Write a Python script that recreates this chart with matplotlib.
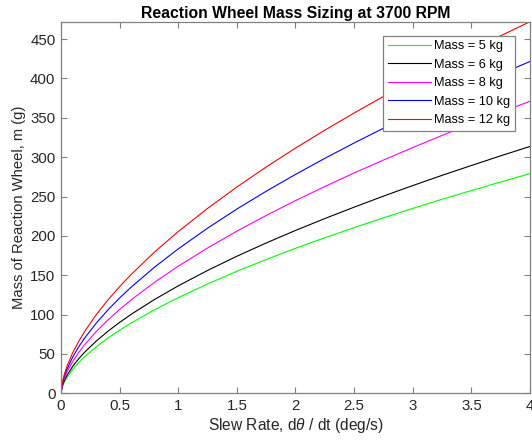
import matplotlib
matplotlib.use("Agg")
import matplotlib.pyplot as plt

plt.rcParams['font.family'] = ['Liberation Sans', 'DejaVu Sans']
plt.rcParams['mathtext.fontset'] = 'custom'
plt.rcParams['mathtext.it'] = 'Liberation Sans:italic'
plt.rcParams['mathtext.rm'] = 'Liberation Sans'

# Slew rate samples (deg/s)
slew_rate = [0, 0.01, 0.025, 0.05, 0.1, 0.15, 0.2, 0.3, 0.4, 0.5, 0.6, 0.8, 1.0,
             1.25, 1.5, 1.75, 2.0, 2.25, 2.5, 2.75, 3.0, 3.25, 3.5, 3.75, 4.0]

# Reaction wheel mass (g) for each spacecraft mass
mass_5kg = [0, 7.7, 13.3, 20.1, 30.5, 38.9, 46.3, 59.0, 70.1, 80.2, 89.4, 106.3, 121.5,
            138.9, 155.0, 170.0, 184.2, 197.6, 210.5, 222.9, 234.9, 246.5, 257.6, 268.5, 279.1]
mass_6kg = [0, 8.6, 14.9, 22.6, 34.3, 43.7, 52.0, 66.3, 78.8, 90.1, 100.5, 119.4, 136.5,
            156.1, 174.1, 191.0, 206.9, 222.0, 236.5, 250.5, 263.9, 276.9, 289.4, 301.7, 313.6]
mass_8kg = [0, 10.2, 17.7, 26.8, 40.6, 51.7, 61.5, 78.4, 93.2, 106.6, 118.9, 141.3, 161.5,
            184.6, 206.0, 225.9, 244.8, 262.7, 279.9, 296.3, 312.2, 327.6, 342.5, 356.9, 371.0]
mass_10kg = [0, 11.6, 20.1, 30.4, 46.1, 58.8, 69.9, 89.1, 105.9, 121.1, 135.1, 160.5, 183.5,
             209.8, 234.1, 256.7, 278.1, 298.5, 318.0, 336.7, 354.7, 372.2, 389.1, 405.6, 421.6]
mass_12kg = [0, 13.0, 22.5, 34.1, 51.6, 65.8, 78.2, 99.8, 118.6, 135.6, 151.2, 179.8, 205.5,
             234.9, 262.1, 287.5, 311.5, 334.3, 356.1, 377.1, 397.3, 416.8, 435.8, 454.2, 472.1]

labels = ['Mass = 5 kg', 'Mass = 6 kg', 'Mass = 8 kg', 'Mass = 10 kg', 'Mass = 12 kg']
colors = ['#00ff00', '#000000', '#ff00ff', '#0000ff', '#ff0000']
x_ticks = [0, 0.5, 1, 1.5, 2, 2.5, 3, 3.5, 4]
y_ticks = [0, 50, 100, 150, 200, 250, 300, 350, 400, 450]

fig = plt.figure(figsize=(5.32, 4.44), dpi=100)
ax = fig.add_axes([0.1147, 0.1142, 0.8815, 0.8369])

for series, lab, col in zip([mass_5kg, mass_6kg, mass_8kg, mass_10kg, mass_12kg], labels, colors):
    ax.plot(slew_rate, series, color=col, lw=0.8, label=lab)

ax.set_xlim(0, 4)
ax.set_ylim(0, 472.1)
ax.set_xticks(x_ticks)
ax.set_xticklabels(['0', '0.5', '1', '1.5', '2', '2.5', '3', '3.5', '4'])
ax.set_yticks(y_ticks)

spine_col = '#808080'
for s in ax.spines.values():
    s.set_color(spine_col)
    s.set_linewidth(0.9)
ax.tick_params(direction='in', length=4, width=0.8, color=spine_col,
               top=True, right=True, labelsize=10.8, labelcolor='#262626', pad=4)

ax.set_xlabel(r'Slew Rate, d$\theta$ / dt (deg/s)', fontsize=11.2, color='#262626', labelpad=2)
ax.set_ylabel('Mass of Reaction Wheel, m (g)', fontsize=10.6, color='#262626', labelpad=3)
ax.set_title('Reaction Wheel Mass Sizing at 3700 RPM', fontsize=11.3, fontweight='bold', pad=3)

leg = ax.legend(loc='upper right', bbox_to_anchor=(0.968, 0.9615), fontsize=9.2,
                fancybox=False, framealpha=1, edgecolor='#808080',
                handlelength=3.4, handletextpad=0.25, labelspacing=0.5,
                borderpad=0.35, borderaxespad=0)
leg.get_frame().set_linewidth(0.9)

fig.savefig('out.png', dpi=100)
